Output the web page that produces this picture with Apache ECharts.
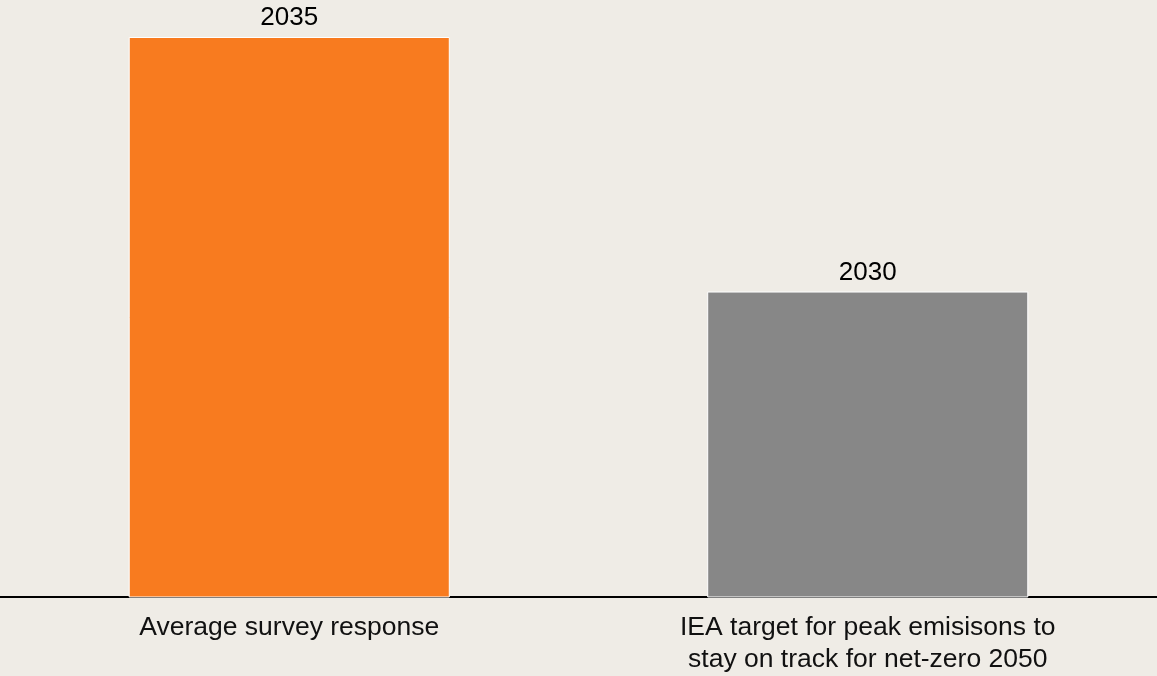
<!DOCTYPE html>
<html>
<head>
<meta charset="utf-8">
<script src="https://cdn.jsdelivr.net/npm/echarts@6/dist/echarts.min.js"></script>
<style>
html,body{margin:0;padding:0;background:#EFECE6;}
#chart{width:1157px;height:676px;}
</style>
</head>
<body>
<div id="chart"></div>
<script>
const categories = ['Average survey response', 'IEA target for peak emisisons to\nstay on track for net-zero 2050'];
const values = [2035, 2030];
const barColors = ['#F87B1F', '#878787'];

const chart = echarts.init(document.getElementById('chart'), null, {renderer: 'canvas'});
const font = '"Liberation Sans", Arial, sans-serif';
chart.setOption({
  backgroundColor: '#EFECE6',
  animation: false,
  grid: {left: 0, right: 0, top: 37, bottom: 79, containLabel: false},
  xAxis: {
    type: 'category',
    data: categories,
    axisLine: {show: true, lineStyle: {color: '#000', width: 2}},
    axisTick: {show: false},
    axisLabel: {color: '#111', fontFamily: font, fontSize: 26.5, lineHeight: 32, margin: 15, interval: 0}
  },
  yAxis: {
    type: 'value',
    min: 2024,
    max: 2035,
    show: false,
    splitLine: {show: false}
  },
  series: [{
    type: 'bar',
    barWidth: '55.5%',
    data: values.map((v, i) => ({value: v, itemStyle: {color: barColors[i]}})),
    itemStyle: {borderColor: '#FFFFFF', borderWidth: 1},
    label: {show: true, position: 'top', distance: 6, color: '#000', fontFamily: font, fontSize: 26}
  }]
});
</script>
</body>
</html>
